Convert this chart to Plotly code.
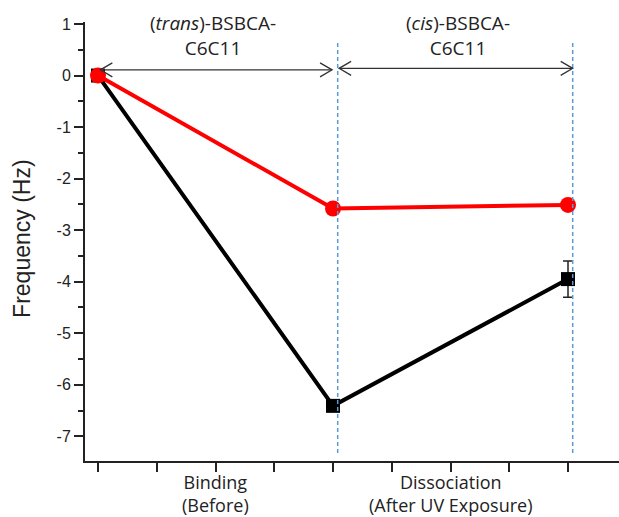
import plotly.graph_objects as go

# ---- data ----
stages = [0, 1, 2]
red_freq = [0.0, -2.58, -2.51]
black_freq = [0.0, -6.41, -3.95]
black_err = [0.0, 0.0, 0.35]

x_tickvals = [0, 0.25, 0.5, 0.75, 1.0, 1.25, 1.5, 1.75, 2.0]
category_x = [0.5, 1.5]
category_labels = ["Binding<br>(Before)", "Dissociation<br>(After UV Exposure)"]
y_tickvals = [-7, -6, -5, -4, -3, -2, -1, 0, 1]
y_ticktext = ["-7", "-6", "-5", "-4", "-3", "-2", "-1", "0", "1"]

phase_lines = [1.02, 2.02]
phase_labels = ["(<i>trans</i>)-BSBCA-<br>C6C11", "(<i>cis</i>)-BSBCA-<br>C6C11"]
phase_label_x = [0.49, 1.53]
arrows = [(0.01, 0.996, 0.11), (1.026, 2.02, 0.14)]

fig = go.Figure()

fig.add_trace(go.Scatter(
    x=stages, y=black_freq, mode="lines+markers",
    line=dict(color="black", width=4),
    marker=dict(symbol="square", size=14, color="black"),
    error_y=dict(type="data", array=black_err, visible=True, color="#222", thickness=1.5, width=5),
    showlegend=False,
))
fig.add_trace(go.Scatter(
    x=stages, y=red_freq, mode="lines+markers",
    line=dict(color="#ff0000", width=4),
    marker=dict(symbol="circle", size=16, color="#ff0000"),
    showlegend=False,
))

shapes = []
for xv in phase_lines:
    shapes.append(dict(type="line", xref="x", yref="y", x0=xv, x1=xv, y0=0.63, y1=-7.33,
                       line=dict(color="#5b9bd5", width=1.5, dash="4px,3px")))
for (xa, xb, yv) in arrows:
    shapes.append(dict(type="line", xref="x", yref="y", x0=xa, x1=xb, y0=yv, y1=yv,
                       line=dict(color="#333", width=1.3)))
    shapes.append(dict(type="path", xref="x", yref="y", xsizemode="pixel", ysizemode="pixel",
                       xanchor=xa, yanchor=yv, path="M 12,7 L 0,0 L 12,-7",
                       line=dict(color="#333", width=1.3)))
    shapes.append(dict(type="path", xref="x", yref="y", xsizemode="pixel", ysizemode="pixel",
                       xanchor=xb, yanchor=yv, path="M -12,7 L 0,0 L -12,-7",
                       line=dict(color="#333", width=1.3)))

annotations = []
for xv, txt in zip(phase_label_x, phase_labels):
    annotations.append(dict(x=xv, y=0.77, xref="x", yref="y", text=txt, showarrow=False,
                            font=dict(family="Open Sans", size=19, color="#222"),
                            xanchor="center", yanchor="middle"))
for xv, txt in zip(category_x, category_labels):
    annotations.append(dict(x=xv, y=0, xref="x", yref="paper", text=txt, showarrow=False,
                            font=dict(family="Open Sans", size=18, color="#222"),
                            xanchor="center", yanchor="top", yshift=-7))
annotations.append(dict(x=0, y=-3.17, xref="paper", yref="y", text="Frequency (Hz)",
                        showarrow=False, textangle=-90, xanchor="center", yanchor="middle",
                        xshift=-63, font=dict(family="Liberation Sans", size=23, color="#222")))

fig.update_layout(
    width=619, height=517,
    margin=dict(l=85, r=0, t=22, b=56),
    paper_bgcolor="white", plot_bgcolor="white",
    shapes=shapes, annotations=annotations,
    xaxis=dict(range=[-0.0553, 2.217], tickvals=x_tickvals, showticklabels=False,
               showline=True, linecolor="#222", linewidth=2, ticks="outside", ticklen=9,
               tickwidth=2, tickcolor="#222", showgrid=False, zeroline=False, automargin=False),
    yaxis=dict(range=[-7.48, 1.039], tickvals=y_tickvals, ticktext=y_ticktext,
               showline=True, linecolor="#222", linewidth=2, ticks="outside", ticklen=9,
               tickwidth=2, tickcolor="#222", showgrid=False, zeroline=False, automargin=False,
               minor=dict(dtick=0.5, tick0=0.5, ticks="outside", ticklen=5, tickwidth=2, tickcolor="#222", showgrid=False),
               tickfont=dict(family="Liberation Sans", size=16, color="#222")),
)

fig.write_html("out.html", config={"displayModeBar": False},
               post_script="document.body.style.margin='0';document.body.style.overflow='hidden';")
